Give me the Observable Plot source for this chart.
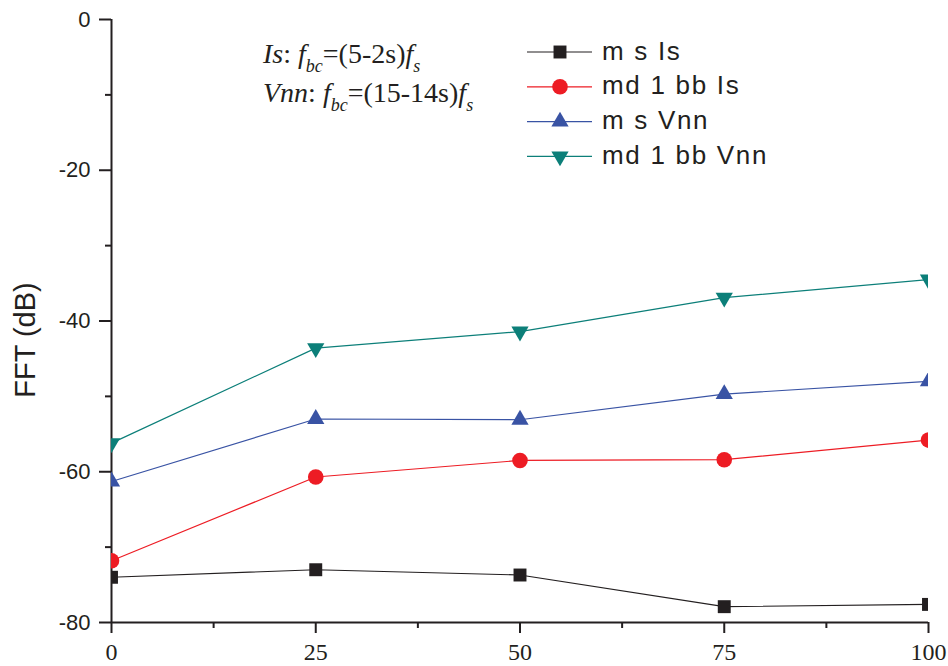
<!DOCTYPE html>
<html>
<head>
<meta charset="utf-8">
<script src="https://cdn.jsdelivr.net/npm/d3@7"></script>
<script src="https://cdn.jsdelivr.net/npm/@observablehq/plot@0.6"></script>
<style>
  html, body { margin: 0; padding: 0; background: #fff; }
  #chart svg { display: block; }
</style>
</head>
<body>
<div id="chart"></div>
<script>
// ---- data ----
const xValues = [0, 25, 50, 75, 100];
const seriesNames = ["m s Is", "md 1 bb Is", "m s Vnn", "md 1 bb Vnn"];
const msIs     = [-74.0, -73.0, -73.7, -77.9, -77.6];
const md1bbIs  = [-71.8, -60.7, -58.5, -58.4, -55.8];
const msVnn    = [-61.3, -53.0, -53.1, -49.7, -48.0];
const md1bbVnn = [-56.2, -43.6, -41.4, -36.9, -34.5];
const xTicks = [0, 25, 50, 75, 100];
const xMinorTicks = [12.5, 37.5, 62.5, 87.5];
const yTicks = [-80, -60, -40, -20, 0];
const yMinorTicks = [-70, -50, -30, -10];
const yLabel = "FFT (dB)";

// ---- styling ----
const colors = ["#231f20", "#ed1c24", "#3953a4", "#0c7f79"];
const triDown = {
  draw(context, size) {
    const k = Math.sqrt(size / (Math.sqrt(3) * 3));
    context.moveTo(0, 2 * k);
    context.lineTo(-Math.sqrt(3) * k, -k);
    context.lineTo(Math.sqrt(3) * k, -k);
    context.closePath();
  }
};
const symbols = ["square", "circle", "triangle", triDown];
const radii = [7.3, 7.8, 6.4, 6.4];
const valueLists = [msIs, md1bbIs, msVnn, md1bbVnn];

const rows = seriesNames.flatMap((name, s) =>
  xValues.map((x, i) => ({series: name, x, y: valueLists[s][i]})));

const sans = "Liberation Sans, Arial, sans-serif";
const serif = "Liberation Serif, Times New Roman, serif";

const marks = [
  Plot.axisY({ticks: yTicks, tickSize: 12, tickPadding: 9, strokeWidth: 2,
    tickFormat: d => String(d), label: null}),
  Plot.axisY({ticks: yMinorTicks, tickSize: 6, strokeWidth: 2, text: null, label: null}),
  Plot.axisX({ticks: xTicks, tickSize: 11, strokeWidth: 2, text: null, label: null}),
  Plot.axisX({ticks: xMinorTicks, tickSize: 6, strokeWidth: 2, text: null, label: null}),
  Plot.text(xTicks, {x: d => d, text: d => String(d), frameAnchor: "bottom", lineAnchor: "top",
    dy: 20, fontFamily: serif, fontSize: 24, fill: "#231f20"}),
  Plot.ruleX([0], {strokeWidth: 2, stroke: "#231f20"}),
  Plot.ruleY([-80], {strokeWidth: 2, stroke: "#231f20"})
];
seriesNames.forEach((name, s) => {
  const d = rows.filter(r => r.series === name);
  marks.push(Plot.line(d, {x: "x", y: "y", stroke: colors[s], strokeWidth: 1.2, clip: true}));
  marks.push(Plot.dot(d, {x: "x", y: "y", symbol: symbols[s], r: radii[s], fill: colors[s], stroke: "none", clip: true}));
});

const svg = Plot.plot({
  width: 948,
  height: 666,
  marginLeft: 111,
  marginRight: 20,
  marginTop: 19,
  marginBottom: 44,
  x: {domain: [0, 100]},
  y: {domain: [-80, 0]},
  style: {background: "#fff", color: "#231f20", fontFamily: sans, fontSize: "22px", overflow: "visible"},
  marks
});
document.getElementById("chart").appendChild(svg);

const root = d3.select(svg);

// y axis title
root.append("text")
  .attr("transform", "translate(35,340) rotate(-90)")
  .attr("text-anchor", "middle")
  .attr("font-family", sans)
  .attr("font-size", 29)
  .attr("fill", "#231f20")
  .text(yLabel);

// legend
const legend = root.append("g").attr("text-anchor", "start");
seriesNames.forEach((name, s) => {
  const cy = 52 + s * 34.8;
  const g = legend.append("g");
  g.append("line").attr("x1", 527).attr("x2", 592).attr("y1", cy).attr("y2", cy)
    .attr("stroke", colors[s]).attr("stroke-width", 1.2);
  const r = radii[s];
  const sym = symbols[s] === "circle" ? null : (symbols[s] === "square" ? d3.symbolSquare : symbols[s] === "triangle" ? d3.symbolTriangle : triDown);
  if (sym) {
    g.append("path").attr("d", d3.symbol(sym, r * r * Math.PI)())
      .attr("transform", `translate(560,${cy})`).attr("fill", colors[s]);
  } else {
    g.append("circle").attr("cx", 560).attr("cy", cy).attr("r", r).attr("fill", colors[s]);
  }
  g.append("text").attr("x", 602).attr("y", cy + 7.5)
    .attr("font-family", sans).attr("font-size", 26).attr("letter-spacing", 1.7)
    .attr("fill", "#231f20").text(name);
});

// annotation formulas
const notes = [
  {lead: "Is", sub: "bc", expr: "=(5-2s)", y: 63},
  {lead: "Vnn", sub: "bc", expr: "=(15-14s)", y: 102}
];
notes.forEach(n => {
  const t = root.append("text").attr("x", 263).attr("y", n.y).attr("text-anchor", "start")
    .attr("font-family", serif).attr("font-size", 28).attr("fill", "#231f20");
  t.append("tspan").attr("font-style", "italic").text(n.lead);
  t.append("tspan").text(": ");
  t.append("tspan").attr("font-style", "italic").text("f");
  t.append("tspan").attr("font-style", "italic").attr("font-size", 18).attr("dy", 9).text(n.sub);
  t.append("tspan").attr("dy", -9).text(n.expr);
  t.append("tspan").attr("font-style", "italic").text("f");
  t.append("tspan").attr("font-style", "italic").attr("font-size", 18).attr("dy", 9).text("s");
});
</script>
</body>
</html>
